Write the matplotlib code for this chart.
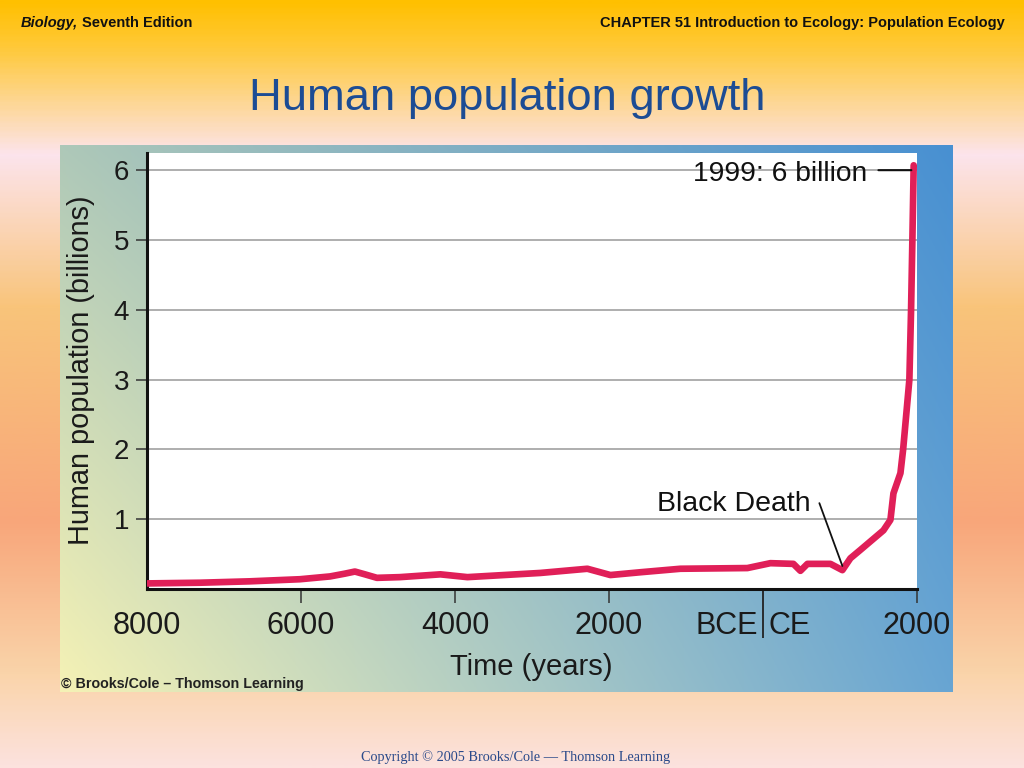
import numpy as np
import matplotlib
matplotlib.use('Agg')
import matplotlib.pyplot as plt
import matplotlib.transforms as mtransforms
from matplotlib.colors import LinearSegmentedColormap, to_rgb

# valores (anos negativos = BCE)
anos = [-8000, -7312, -6662, -6013, -5623, -5430, -5300, -5170, -5014, -4716,
        -4190, -3839, -2891, -2281, -1982, -1592, -1073, -203, 96, 395,
        486, 577, 876, 1031, 1135, 1265, 1564, 1655, 1694, 1785,
        1820, 1901, 1923, 1940, 1957]
populacao = [0.08, 0.09, 0.11, 0.14, 0.18, 0.22, 0.25, 0.21, 0.16, 0.17,
             0.21, 0.17, 0.23, 0.29, 0.20, 0.24, 0.29, 0.30, 0.37, 0.36,
             0.26, 0.36, 0.36, 0.27, 0.44, 0.56, 0.84, 0.99, 1.37, 1.66,
             2.0, 3.0, 4.0, 5.0, 6.07]

xticks = [-8000, -6000, -4000, -2000, 2000]
xlabels = ['8000', '6000', '4000', '2000', '2000']
yticks = [1, 2, 3, 4, 5, 6]
ylabels = ['1', '2', '3', '4', '5', '6']

fonte = 'Liberation Sans'

W, H = 1024, 768
fig = plt.figure(figsize=(W / 100, H / 100), dpi=100)

# fundo do slide
fundo = fig.add_axes([0, 0, 1, 1])
stops = [(0.0, '#FFC000'), (0.06, '#FFC93A'), (0.2, '#FCE4EC'), (0.4, '#F9C47A'),
         (0.68, '#F8A67A'), (0.88, '#FAD4AA'), (1.0, '#FCE2DE')]
cmap_fundo = LinearSegmentedColormap.from_list('fundo', stops)
fundo.imshow(np.linspace(0, 1, 400)[:, None], cmap=cmap_fundo, aspect='auto',
             extent=[0, 1, 0, 1])
fundo.set_axis_off()

# painel com degrade
painel = fig.add_axes([60 / W, 1 - 692 / H, 893 / W, 547 / H])
tl, tr = np.array(to_rgb('#AEC8B8')), np.array(to_rgb('#4890D2'))
bl, br = np.array(to_rgb('#F5F2B5')), np.array(to_rgb('#68A5D3'))
u = np.linspace(0, 1, 300)[None, :, None]
v = np.linspace(0, 1, 200)[:, None, None]
img = tl * (1 - u) * (1 - v) + tr * u * (1 - v) + bl * (1 - u) * v + br * u * v
painel.imshow(np.clip(img, 0, 1), aspect='auto', extent=[0, 1, 0, 1])
painel.set_axis_off()

# grafico
ax = fig.add_axes([147 / W, 1 - 589 / H, 770 / W, 436 / H])
ax.set_facecolor('white')
ax.set_xlim(-8000, 2000)
ax.set_ylim(0, 6.246)
ax.plot(anos, populacao, color='#E01F58', lw=4.8,
        solid_joinstyle='round', solid_capstyle='round', zorder=3)

ax.grid(axis='y', color='#A8A8A8', lw=1.3)
ax.set_axisbelow(True)
for s in ['top', 'right']:
    ax.spines[s].set_visible(False)
for s in ['left', 'bottom']:
    ax.spines[s].set_linewidth(2.2)
    ax.spines[s].set_color('#111111')

ax.set_xticks(xticks)
ax.set_xticklabels(xlabels, fontsize=22, family=fonte, color='#1a1a1a')
ax.set_xticks([0], minor=True)
ax.tick_params(axis='x', which='major', length=10, width=1.1, color='#333333', pad=5.5)
ax.tick_params(axis='x', which='minor', length=35, width=1.3, color='#222222')
ax.xaxis.get_major_ticks()[0].tick1line.set_visible(False)

ax.set_yticks(yticks)
ax.set_yticklabels(ylabels, fontsize=20, family=fonte, color='#1a1a1a')
ax.tick_params(axis='y', length=8, width=1.1, color='#333333', pad=5)

trans = mtransforms.blended_transform_factory(ax.transData, ax.transAxes)
ax.text(-65, -22 / 436, 'BCE', transform=trans, ha='right', va='top',
        fontsize=22, family=fonte, color='#1a1a1a')
ax.text(65, -22 / 436, 'CE', transform=trans, ha='left', va='top',
        fontsize=22, family=fonte, color='#1a1a1a')

# anotacoes
ax.annotate('', xy=(1927, 6.0), xytext=(1499, 6.0),
            arrowprops=dict(arrowstyle='-', lw=1.5, color='#111111',
                            shrinkA=0, shrinkB=0))
ax.text(1356, 5.85, '1999: 6 billion', ha='right', va='baseline',
        fontsize=20.3, family=fonte, color='#111111', zorder=4)
ax.annotate('', xy=(1031, 0.33), xytext=(732, 1.23),
            arrowprops=dict(arrowstyle='-', lw=1.3, color='#111111',
                            shrinkA=0, shrinkB=0))
ax.text(614, 1.12, 'Black Death', ha='right', va='baseline',
        fontsize=20.5, family=fonte, color='#111111', zorder=4)

fig.text(81 / W, 1 - 370 / H, 'Human population (billions)', rotation=90,
         ha='center', va='center', fontsize=20.8, family=fonte, color='#1a1a1a')
fig.text(531 / W, 1 - 667 / H, 'Time (years)', ha='center', va='center',
         fontsize=21, family=fonte, color='#1a1a1a')
fig.text(61 / W, 1 - 688 / H, '\u00a9 Brooks/Cole \u2013 Thomson Learning',
         ha='left', va='baseline', fontsize=10.3, fontweight='bold',
         family=fonte, color='#222222')

# textos do slide
fig.text(507 / W, 1 - 110 / H, 'Human population growth', ha='center',
         va='baseline', fontsize=32.7, family=fonte, color='#1C4C94')

renderer = fig.canvas.get_renderer()
t1 = fig.text(21 / W, 1 - 27 / H, 'Biology,', ha='left', va='baseline',
              fontsize=10.5, fontweight='bold', fontstyle='italic',
              family=fonte, color='#111111')
fim = t1.get_window_extent(renderer=renderer).x1
fig.text((fim + 4) / W, 1 - 27 / H, 'Seventh Edition', ha='left', va='baseline',
         fontsize=10.5, fontweight='bold', family=fonte, color='#111111')
fig.text(1005 / W, 1 - 27 / H,
         'CHAPTER 51 Introduction to Ecology: Population Ecology',
         ha='right', va='baseline', fontsize=10.5, fontweight='bold',
         family=fonte, color='#111111')
fig.text(516 / W, 1 - 761 / H,
         'Copyright \u00a9 2005 Brooks/Cole \u2014 Thomson Learning',
         ha='center', va='baseline', fontsize=10.3, family='Liberation Serif',
         color='#2A4A8A')

fig.savefig('out.png', dpi=100)
